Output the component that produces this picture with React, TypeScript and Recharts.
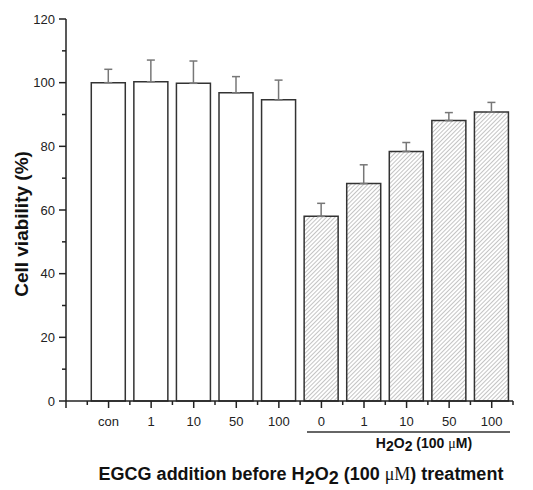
import React from 'react';
import { BarChart, Bar, XAxis, YAxis, ErrorBar, Cell } from 'recharts';

// slot 0 is the empty slot at the axis origin
const categories = ['', 'con', '1', '10', '50', '100', '0', '1', '10', '50', '100'];
const viability = [null, 100, 100.3, 99.8, 96.8, 94.6, 58.0, 68.3, 78.4, 88.1, 90.8];
const sem = [null, 4.2, 6.8, 7.0, 5.1, 6.2, 4.1, 5.9, 2.8, 2.5, 3.0];
const h2o2Treated = [false, false, false, false, false, false, true, true, true, true, true];

const yTicks = [0, 10, 20, 30, 40, 50, 60, 70, 80, 90, 100, 110, 120];
const xTicks = [0, 0.5, 1, 1.5, 2, 2.5, 3, 3.5, 4, 4.5, 5, 5.5, 6, 6.5, 7, 7.5, 8, 8.5, 9, 9.5, 10, 10.5];

const data = categories
  .map((name, i) => ({
    pos: i,
    name,
    value: viability[i],
    err: sem[i] == null ? null : [0, sem[i]],
    hatched: h2o2Treated[i],
  }))
  .filter((d) => d.value != null);

const FONT = '"Liberation Sans", Arial, Helvetica, sans-serif';

const XTick = ({ x, y, payload }: any) => {
  const v = payload.value;
  const major = Number.isInteger(v);
  return (
    <g>
      <line x1={x} y1={y} x2={x} y2={y + (major ? 7 : 4)} stroke="#222" strokeWidth={1.5} />
      {major && categories[v] ? (
        <text x={x} y={y + 25} textAnchor="middle" fontSize={13} fill="#222" fontFamily={FONT}>
          {categories[v]}
        </text>
      ) : null}
    </g>
  );
};

const YTick = ({ x, y, payload }: any) => {
  const v = payload.value;
  const major = v % 20 === 0;
  return (
    <g>
      <line x1={x - (major ? 7 : 4)} y1={y} x2={x} y2={y} stroke="#222" strokeWidth={1.5} />
      {major ? (
        <text x={x - 11} y={y} dy="0.36em" textAnchor="end" fontSize={13} fill="#222" fontFamily={FONT}>
          {v}
        </text>
      ) : null}
    </g>
  );
};

const App: React.FC = () => {
  return (
    <div style={{ position: 'absolute', left: 0, top: 0, width: 533, height: 490, background: '#fff' }}>
      <BarChart width={533} height={490} data={data} margin={{ top: 19, right: 20, left: 0, bottom: 0 }}>
        <defs>
          <pattern id="hatch" patternUnits="userSpaceOnUse" width={3} height={3} patternTransform="rotate(45)">
            <rect width={3} height={3} fill="#fff" />
            <line x1={0} y1={0} x2={0} y2={3} stroke="#8a8a8a" strokeWidth={1} />
          </pattern>
        </defs>
        <XAxis
          dataKey="pos"
          type="number"
          domain={[0, 10.5]}
          ticks={xTicks}
          interval={0}
          tickLine={false}
          tickSize={0}
          tickMargin={0}
          tick={<XTick />}
          height={89}
          axisLine={{ stroke: '#222', strokeWidth: 1.5 }}
        />
        <YAxis
          type="number"
          domain={[0, 120]}
          ticks={yTicks}
          interval={0}
          tickLine={false}
          tickSize={0}
          tickMargin={0}
          tick={<YTick />}
          width={66}
          axisLine={{ stroke: '#222', strokeWidth: 1.5 }}
        />
        <Bar dataKey="value" barSize={34} isAnimationActive={false} stroke="#333" strokeWidth={1.5}>
          {data.map((d, i) => (
            <Cell key={i} fill={d.hatched ? 'url(#hatch)' : '#fff'} />
          ))}
          <ErrorBar dataKey="err" width={4} stroke="#777" strokeWidth={1.5} direction="y" />
        </Bar>
      </BarChart>
      <svg
        width={533}
        height={490}
        style={{ position: 'absolute', left: 0, top: 0, pointerEvents: 'none' }}
        fontFamily={FONT}
      >
        <text
          x={0}
          y={0}
          transform="translate(28,224) rotate(-90)"
          textAnchor="middle"
          fontSize={19}
          fontWeight="bold"
          fill="#111"
        >
          Cell viability (%)
        </text>
        <line x1={307} y1={432} x2={510} y2={432} stroke="#333" strokeWidth={1.5} />
        <text x={424} y={448} textAnchor="middle" fontSize={14} fontWeight="bold" fill="#111">
          H<tspan dy={3} fontSize={14}>2</tspan>
          <tspan dy={-3}>O</tspan>
          <tspan dy={3}>2</tspan>
          <tspan dy={-3}> (100 </tspan>
          <tspan fontFamily='"Liberation Serif", "Times New Roman", serif' fontWeight="normal">μ</tspan>
          <tspan>M)</tspan>
        </text>
        <text x={301} y={480} textAnchor="middle" fontSize={18} fontWeight="bold" fill="#111">
          EGCG addition before H<tspan dy={4}>2</tspan>
          <tspan dy={-4}>O</tspan>
          <tspan dy={4}>2</tspan>
          <tspan dy={-4}> (100 </tspan>
          <tspan fontFamily='"Liberation Serif", "Times New Roman", serif' fontWeight="normal">μM</tspan>
          <tspan>) treatment</tspan>
        </text>
      </svg>
    </div>
  );
};

export default App;
